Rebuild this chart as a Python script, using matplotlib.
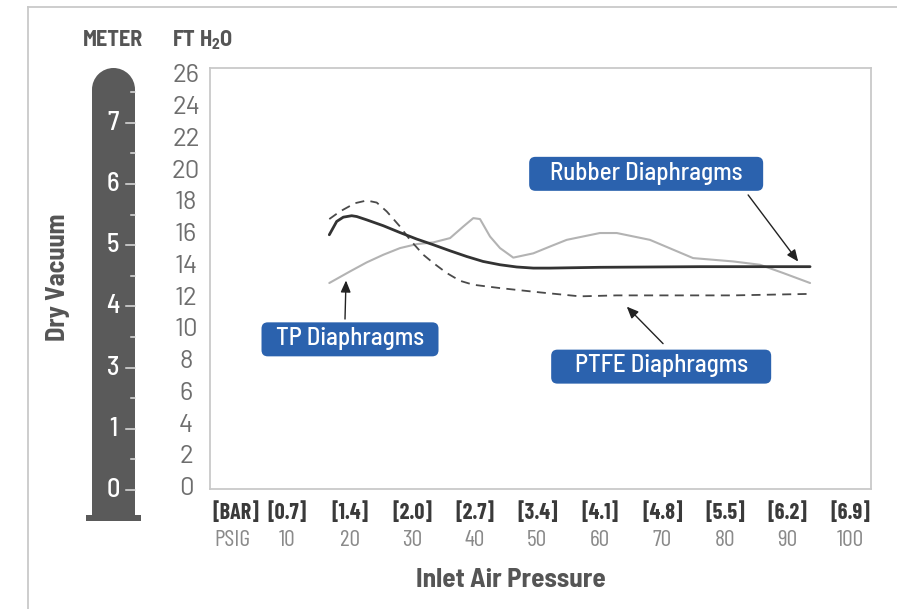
import matplotlib
matplotlib.use("Agg")
import matplotlib.pyplot as plt
from matplotlib.patches import Rectangle, Ellipse, FancyBboxPatch
from matplotlib.lines import Line2D

plt.rcParams['font.family'] = ['Barlow Semi Condensed', 'Roboto Condensed', 'DejaVu Sans']
DIGITS = ['Barlow', 'Roboto', 'DejaVu Sans']
NARROW = ['Barlow Condensed', 'Barlow Semi Condensed', 'DejaVu Sans']

# ---- data (psig, ft H2O) ----
rubber_x = [16.75, 17.93, 18.99, 20.33, 21.13, 22.73, 25.38, 28.05, 30.72, 33.38,
            36.05, 38.72, 41.32, 44.04, 46.71, 49.36, 52.03, 60.0, 76.0, 93.6]
rubber_y = [15.99, 16.83, 17.10, 17.19, 17.14, 16.93, 16.56, 16.13, 15.72, 15.36,
            14.98, 14.62, 14.31, 14.10, 13.96, 13.89, 13.89, 13.94, 13.98, 13.98]

ptfe_x = [16.75, 18.46, 20.86, 22.73, 24.33, 25.93, 28.05, 29.65, 31.78, 33.38,
          35.52, 37.64, 39.77, 44.04, 50.4, 56.8, 62.7, 70.7, 81.3, 93.1]
ptfe_y = [16.98, 17.46, 17.98, 18.15, 18.02, 17.46, 16.51, 15.67, 14.73, 14.21,
          13.58, 13.09, 12.84, 12.63, 12.36, 12.11, 12.17, 12.17, 12.17, 12.26]

tp_x = [16.75, 20.06, 22.73, 25.38, 28.05, 30.72, 33.38, 36.05, 38.17, 39.77,
        40.84, 42.44, 44.04, 46.16, 49.36, 52.03, 54.7, 60.0, 62.7, 68.0,
        74.9, 81.3, 85.6, 89.3, 93.6]
tp_y = [12.95, 13.68, 14.25, 14.73, 15.15, 15.40, 15.51, 15.78, 16.51, 17.04,
        16.98, 15.88, 15.15, 14.55, 14.82, 15.25, 15.67, 16.10, 16.10, 15.67,
        14.52, 14.31, 14.10, 13.58, 12.95]

psig_ticks = [0, 10, 20, 30, 40, 50, 60, 70, 80, 90, 100]
psig_labels = ['PSIG', '10', '20', '30', '40', '50', '60', '70', '80', '90', '100']
bar_labels = ['[BAR]', '[0.7]', '[1.4]', '[2.0]', '[2.7]', '[3.4]', '[4.1]',
              '[4.8]', '[5.5]', '[6.2]', '[6.9]']
ft_ticks = [0, 2, 4, 6, 8, 10, 12, 14, 16, 18, 20, 22, 24, 26]
meter_labels = ['0', '1', '3', '4', '5', '6', '7']

# callouts: text, box centre, arrow tail, arrow tip
callout_text = ['Rubber Diaphragms', 'PTFE Diaphragms', 'TP Diaphragms']
callout_xy = [(67.4, 19.83), (69.8, 7.68), (20.06, 9.40)]
arrow_tail = [(83.7, 18.5), (70.1, 9.13), (19.26, 10.68)]
arrow_tip = [(91.7, 14.3), (64.3, 11.46), (19.42, 13.11)]
box_w_px = [234, 220, 177]

BLUE = '#2b62ae'
SPINE = '#c9c9c9'
W, H = 897, 609

fig = plt.figure(figsize=(W / 100, H / 100), dpi=100)

# outer frame (top + left only)
fig.add_artist(Line2D([28 / W, 1], [1 - 7 / H, 1 - 7 / H], color=SPINE, lw=1.3))
fig.add_artist(Line2D([28 / W, 28 / W], [0, 1 - 7 / H], color=SPINE, lw=1.3))

# main plot
ax = fig.add_axes([210 / W, (H - 488.5) / H, (871 - 210) / W, (488.5 - 68) / H])
ax.set_xlim(-2.32, 103.34)
ax.set_ylim(0, 26.5)
for s in ax.spines.values():
    s.set_color(SPINE)
    s.set_linewidth(1.3)
ax.set_xticks([])
ax.set_yticks([])

ax.plot(tp_x, tp_y, color='#b3b3b3', lw=1.5, solid_capstyle='round', zorder=2)
ax.plot(ptfe_x, ptfe_y, color='#4a4a4a', lw=1.3, ls=(0, (5, 3.5)), zorder=3)
ax.plot(rubber_x, rubber_y, color='#333333', lw=2.0, solid_capstyle='round', zorder=4)

ytr = ax.get_yaxis_transform()
for v in ft_ticks:
    ax.text(-0.0363, v, str(v), transform=ytr, ha='center', va='center',
            fontsize=18.5, family=DIGITS, color='#6e6e6e', clip_on=False)

xtr = ax.get_xaxis_transform()
for i, (v, b, p) in enumerate(zip(psig_ticks, bar_labels, psig_labels)):
    if i == 0:
        ax.text(0.003, -0.056, b, transform=ax.transAxes, ha='left', va='center',
                fontsize=16, family=NARROW, fontweight='bold', color='#3a3a3a')
        ax.text(0.006, -0.123, p, transform=ax.transAxes, ha='left', va='center',
                fontsize=17, family=NARROW, color='#8a8a8a')
    else:
        ax.text(v, -0.056, b, transform=xtr, ha='center', va='center',
                fontsize=16, family=NARROW, fontweight='bold', color='#3a3a3a', clip_on=False)
        ax.text(v, -0.123, p, transform=xtr, ha='center', va='center',
                fontsize=17, family=NARROW, color='#8a8a8a', clip_on=False)

# callout boxes with arrows
px_x = 661 / (103.34 + 2.32)
px_y = 420.5 / 26.5
for t, (cx, cy), tail, tip, bw in zip(callout_text, callout_xy, arrow_tail, arrow_tip, box_w_px):
    w = bw / px_x
    h = 34 / px_y
    box = FancyBboxPatch((cx - w / 2, cy - h / 2), w, h,
                         boxstyle='round,pad=0,rounding_size=1.0',
                         mutation_aspect=px_x / px_y,
                         fc=BLUE, ec='none', zorder=6)
    ax.add_patch(box)
    ax.text(cx, cy + 0.05, t, ha='center', va='center', fontsize=18, fontweight='medium',
            color='white', zorder=7)
    ax.annotate('', xy=tip, xytext=tail,
                arrowprops=dict(arrowstyle='-|>,head_length=0.7,head_width=0.3',
                                color='#222222', lw=1.0, shrinkA=0, shrinkB=0),
                zorder=5)

# thermometer (meter scale)
tax = fig.add_axes([80 / W, (H - 530) / H, 70 / W, 470 / H])
tax.set_xlim(80, 150)
tax.set_ylim((490 - 530) / 61.2, (490 - 60) / 61.2)
tax.axis('off')
yc = (490 - 89.5) / 61.2
ybot = (490 - 515) / 61.2
tax.add_patch(Rectangle((92, ybot), 43, yc - ybot, fc='#5a5a5a', ec='none'))
tax.add_patch(Ellipse((113.5, yc), 43, 43 / 61.2, fc='#5a5a5a', ec='none'))
tax.add_patch(Rectangle((86, (490 - 521) / 61.2), 55, 6 / 61.2, fc='#5a5a5a', ec='none'))
for i, lab in enumerate(meter_labels):
    tax.plot([126, 135], [i, i], color='#e0e0e0', lw=1.1)
    tax.plot([131, 135], [i + 0.5, i + 0.5], color='#e0e0e0', lw=1.1)
    tax.text(113, i, lab, ha='center', va='center', fontsize=19, fontweight='medium',
             color='white')

# headers and axis titles
fig.text(113 / W, 1 - 40 / H, 'METER', ha='center', va='center',
         fontsize=16, fontweight='bold', color='#555555')
fig.text(203 / W, 1 - 40 / H, r'FT H$_\mathregular{2}$O', ha='center', va='center',
         fontsize=16, fontweight='bold', color='#555555')
fig.text(58 / W, 1 - 277 / H, 'Dry Vacuum', ha='center', va='center', rotation=90,
         fontsize=19, fontweight='bold', color='#555555')
fig.text(511 / W, 1 - 580 / H, 'Inlet Air Pressure', ha='center', va='center',
         fontsize=19.5, fontweight='bold', color='#555555')

fig.savefig('out.png', dpi=100)
